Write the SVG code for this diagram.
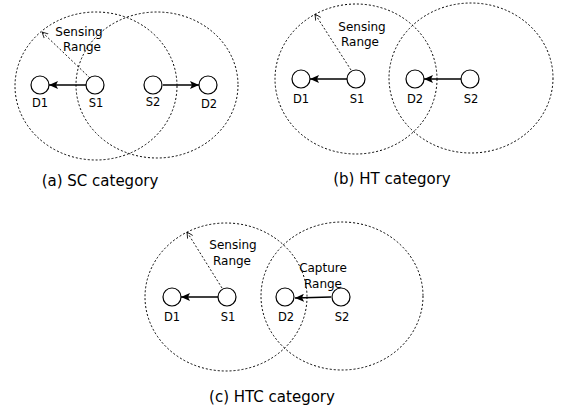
<svg xmlns="http://www.w3.org/2000/svg" width="561" height="412" viewBox="0 0 561 412">
<defs>
<marker id="ah" markerWidth="10" markerHeight="8" refX="9" refY="4" orient="auto" markerUnits="userSpaceOnUse">
<path d="M0,0 L9,4 L0,8 L2,4 Z" fill="#000"/>
</marker>
<marker id="sh" markerWidth="8" markerHeight="8" refX="6" refY="4" orient="auto" markerUnits="userSpaceOnUse">
<path d="M0,1 L6,4 L0,7" fill="none" stroke="#000" stroke-width="0.8"/>
</marker>
</defs>
<style>
.range{fill:none;stroke:#000;stroke-width:1;stroke-dasharray:2,2}
.node{fill:#fff;stroke:#000;stroke-width:1.2}
.link{stroke:#000;stroke-width:1.6;fill:none;marker-end:url(#ah)}
.sense{stroke:#000;stroke-width:0.9;stroke-dasharray:2,2;fill:none;marker-end:url(#sh)}
text{font-family:"DejaVu Sans",sans-serif;fill:#000}
.lbl{font-size:11.5px;text-anchor:middle}
.rl{font-size:12px;text-anchor:middle}
.cap{font-size:15px;text-anchor:middle}
</style>
<rect width="561" height="412" fill="#fff"/>

<!-- Panel (a) -->
<g id="ranges-a">
<ellipse class="range" cx="96" cy="86" rx="81" ry="74"/>
<ellipse class="range" cx="157" cy="85" rx="81" ry="73"/>
</g>
<g id="connectors-a">
<line class="link" x1="86" y1="85" x2="49" y2="85"/>
<line class="link" x1="163" y1="85" x2="199" y2="85"/>
<line class="sense" x1="90" y1="78" x2="42" y2="32"/>
</g>
<g id="a-D1"><circle class="node" cx="40" cy="85" r="9"/><text class="lbl" x="40" y="107">D1</text></g>
<g id="a-S1"><circle class="node" cx="95" cy="85" r="9"/><text class="lbl" x="96" y="107">S1</text></g>
<g id="a-S2"><circle class="node" cx="153" cy="85" r="9"/><text class="lbl" x="153" y="106">S2</text></g>
<g id="a-D2"><circle class="node" cx="208" cy="85" r="9"/><text class="lbl" x="209" y="108">D2</text></g>
<g id="a-label"><text class="rl" x="79" y="36">Sensing</text><text class="rl" x="82" y="51">Range</text></g>
<text class="cap" x="100" y="186">(a) SC category</text>

<!-- Panel (b) -->
<g id="ranges-b">
<ellipse class="range" cx="356" cy="79" rx="81" ry="75"/>
<ellipse class="range" cx="471" cy="78" rx="82" ry="75"/>
</g>
<g id="connectors-b">
<line class="link" x1="347" y1="79" x2="310" y2="79"/>
<line class="link" x1="461" y1="79" x2="424" y2="79"/>
<line class="sense" x1="351" y1="70" x2="315" y2="14"/>
</g>
<g id="b-D1"><circle class="node" cx="301" cy="79" r="9"/><text class="lbl" x="301" y="103">D1</text></g>
<g id="b-S1"><circle class="node" cx="356" cy="79" r="9"/><text class="lbl" x="357" y="103">S1</text></g>
<g id="b-D2"><circle class="node" cx="415" cy="79" r="9"/><text class="lbl" x="415" y="103">D2</text></g>
<g id="b-S2"><circle class="node" cx="470" cy="79" r="9"/><text class="lbl" x="471" y="103">S2</text></g>
<g id="b-label"><text class="rl" x="362" y="31">Sensing</text><text class="rl" x="360" y="46">Range</text></g>
<text class="cap" x="392" y="184">(b) HT category</text>

<!-- Panel (c) -->
<g id="ranges-c">
<ellipse class="range" cx="226" cy="297" rx="81" ry="74"/>
<ellipse class="range" cx="342" cy="296" rx="81" ry="74"/>
</g>
<g id="connectors-c">
<line class="link" x1="218" y1="297" x2="181" y2="297"/>
<line class="link" x1="331" y1="297" x2="295" y2="298"/>
<line class="sense" x1="222" y1="288" x2="187" y2="232"/>
</g>
<g id="c-D1"><circle class="node" cx="172" cy="297" r="9"/><text class="lbl" x="172" y="321">D1</text></g>
<g id="c-S1"><circle class="node" cx="227" cy="297" r="9"/><text class="lbl" x="228" y="321">S1</text></g>
<g id="c-D2"><circle class="node" cx="285" cy="297" r="9"/><text class="lbl" x="286" y="321">D2</text></g>
<g id="c-S2"><circle class="node" cx="341" cy="297" r="9"/><text class="lbl" x="342" y="321">S2</text></g>
<g id="c-label"><text class="rl" x="233" y="249">Sensing</text><text class="rl" x="232" y="265">Range</text></g>
<g id="c-capture"><text class="rl" x="323" y="272">Capture</text><text class="rl" x="323" y="288">Range</text></g>
<text class="cap" x="272" y="402">(c) HTC category</text>
</svg>
